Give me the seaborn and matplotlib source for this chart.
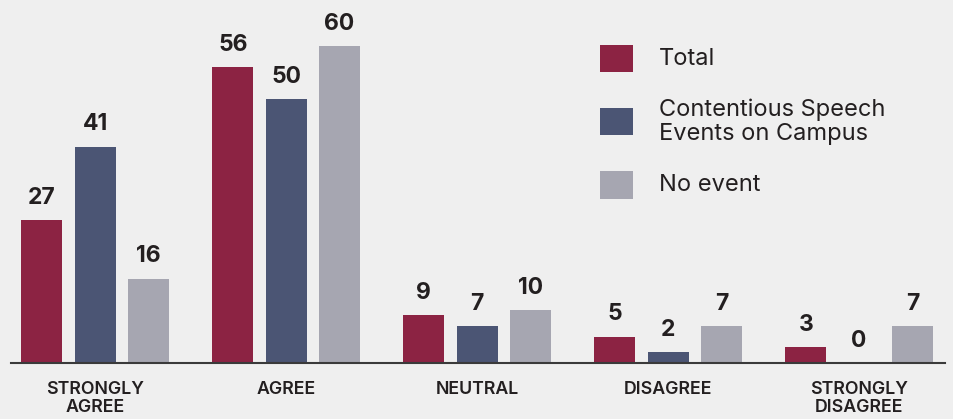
import pandas as pd
import matplotlib.pyplot as plt
import seaborn as sb

# Veriler
kategoriler = ["STRONGLY\nAGREE", "AGREE", "NEUTRAL", "DISAGREE", "STRONGLY\nDISAGREE"]
gruplar = ["Total", "Contentious Speech\nEvents on Campus", "No event"]
total = [27, 56, 9, 5, 3]
contentious = [41, 50, 7, 2, 0]
no_event = [16, 60, 10, 7, 7]
renkler = ["#8c2343", "#4b5574", "#a6a6b1"]

veri_seti = pd.DataFrame({
    "kategori": kategoriler * 3,
    "grup": [g for g in gruplar for _ in kategoriler],
    "deger": total + contentious + no_event,
})

sb.set_theme(style="white")
plt.rcParams["font.family"] = ["Inter", "DejaVu Sans"]
arka = "#efefef"
yazi = "#231f20"

fig = plt.figure(figsize=(9.54, 4.19), dpi=100, facecolor=arka)
ax = fig.add_axes([11 / 954, 56 / 419, 934 / 954, 363 / 419])
ax.set_facecolor(arka)

sb.barplot(data=veri_seti, x="kategori", y="deger", hue="grup",
           hue_order=gruplar, order=kategoriler, palette=renkler,
           saturation=1, width=0.837, gap=0.23, legend=False,
           linewidth=0, edgecolor="none", ax=ax)

for cont in ax.containers:
    ax.bar_label(cont, fmt="%d", padding=8, fontsize=16.5, fontweight="bold", color=yazi)

ax.set_xlim(-0.44, 4.45)
ax.set_ylim(0, 363 / 5.28)
ax.set_xlabel("")
ax.set_ylabel("")
ax.set_yticks([])
ax.tick_params(axis="x", length=0, pad=13, labelsize=12.8, colors=yazi)
for t in ax.get_xticklabels():
    t.set_fontweight("semibold")
    t.set_linespacing(1.1)
for s in ["top", "right", "left"]:
    ax.spines[s].set_visible(False)
ax.spines["bottom"].set_color("#3a3a3a")
ax.spines["bottom"].set_linewidth(1.5)

leg = ax.legend(ax.containers, gruplar, loc="upper left",
                bbox_to_anchor=(600 / 954, 1 - 45 / 419), bbox_transform=fig.transFigure,
                frameon=False, fontsize=17, handlelength=1.4, handleheight=1.4,
                handletextpad=1.1, labelspacing=1.1, borderpad=0, borderaxespad=0,
                labelcolor=yazi)
for kolon in leg._legend_handle_box.get_children():
    for satir in kolon.get_children():
        satir.align = "center"
for t in leg.get_texts():
    t.set_linespacing(1.15)

fig.savefig("out.png", dpi=100, facecolor=arka)
